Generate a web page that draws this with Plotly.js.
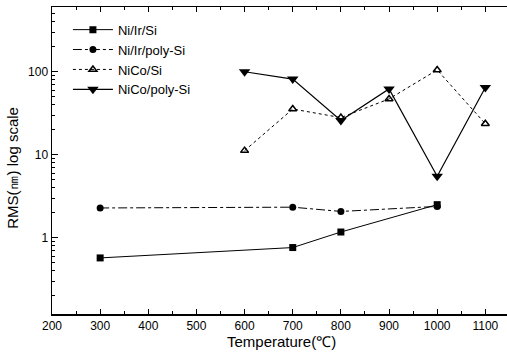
<!DOCTYPE html>
<html>
<head>
<meta charset="utf-8">
<script src="https://cdn.plot.ly/plotly-3.0.1.min.js"></script>
<style>html,body{margin:0;padding:0;background:#fff;}#chart{width:507px;height:352px;}</style>
</head>
<body>
<div id="chart"></div>
<script>
const seriesNames = ["Ni/Ir/Si", "Ni/Ir/poly-Si", "NiCo/Si", "NiCo/poly-Si"];
const tempNiIrSi = [300, 700, 800, 1000];
const rmsNiIrSi = [0.57, 0.76, 1.17, 2.5];
const tempNiIrPoly = [300, 700, 800, 1000];
const rmsNiIrPoly = [2.28, 2.33, 2.07, 2.38];
const tempNiCoSi = [600, 700, 800, 900, 1000, 1100];
const rmsNiCoSi = [11.2, 35.5, 28, 47, 105, 23.6];
const tempNiCoPoly = [600, 700, 800, 900, 1000, 1100];
const rmsNiCoPoly = [100, 81.6, 25.9, 62, 5.5, 64.6];
const xTickVals = [200, 300, 400, 500, 600, 700, 800, 900, 1000, 1100];
const yTickVals = [1, 10, 100];
const yTickText = ["1", "10", "100"];
const xTitle = "Temperature(℃)";
const yTitle = "RMS(㎚) log scale";

const minorY = [];
[0.1, 1, 10, 100].forEach(d => { for (let k = 2; k <= 9; k++) minorY.push(d * k); });

const font = {family: "Liberation Sans, Arial, sans-serif", color: "#000"};

const traces = [
  {x: tempNiIrSi, y: rmsNiIrSi, name: seriesNames[0], mode: "lines+markers",
   line: {color: "#000", width: 1, dash: "solid"},
   marker: {symbol: "square", size: 7, color: "#000"}},
  {x: tempNiIrPoly, y: rmsNiIrPoly, name: seriesNames[1], mode: "lines+markers",
   line: {color: "#000", width: 1, dash: "dashdot"},
   marker: {symbol: "circle", size: 7, color: "#000"}},
  {x: tempNiCoSi, y: rmsNiCoSi, name: seriesNames[2], mode: "lines+markers",
   line: {color: "#000", width: 1, dash: "dot"},
   marker: {symbol: "triangle-up-open", size: 7, color: "#000", line: {width: 1.5}}},
  {x: tempNiCoPoly, y: rmsNiCoPoly, name: seriesNames[3], mode: "lines+markers",
   line: {color: "#000", width: 1.2, dash: "solid"},
   marker: {symbol: "triangle-down", size: 10, color: "#000"}}
];

const layout = {
  width: 507, height: 352,
  margin: {l: 52, r: 0, t: 7, b: 38},
  paper_bgcolor: "#fff", plot_bgcolor: "#fff",
  font: font,
  showlegend: true,
  legend: {x: 0.035, y: 0.975, xanchor: "left", yanchor: "top",
           font: {family: font.family, size: 13, color: "#000"},
           bgcolor: "rgba(0,0,0,0)", tracegroupgap: 0, itemwidth: 40},
  xaxis: {
    range: [200, 1145], tickmode: "array", tickvals: xTickVals,
    ticks: "inside", ticklen: 5, tickwidth: 1, tickcolor: "#000",
    showline: true, linecolor: "#000", linewidth: 1.5, mirror: "ticks",
    showgrid: false, zeroline: false,
    tickfont: {family: font.family, size: 12, color: "#000"},
    minor: {dtick: 50, tick0: 250, ticks: "inside", ticklen: 3, tickcolor: "#000"}
  },
  yaxis: {
    type: "log", range: [-0.92, 2.78],
    tickmode: "array", tickvals: yTickVals, ticktext: yTickText,
    ticks: "inside", ticklen: 6, tickwidth: 1, tickcolor: "#000",
    showline: true, linecolor: "#000", linewidth: 1.5,
    showgrid: false, zeroline: false,
    tickfont: {family: font.family, size: 12, color: "#000"},
    minor: {tickmode: "array", tickvals: minorY, ticks: "inside", ticklen: 3, tickcolor: "#000"}
  },
  annotations: [
    {text: xTitle, xref: "paper", yref: "paper", x: 0.505, y: -0.09,
     xanchor: "center", yanchor: "middle", showarrow: false,
     font: {family: font.family, size: 15, color: "#000"}},
    {text: yTitle, xref: "paper", yref: "paper", x: -0.086, y: 0.476,
     xanchor: "center", yanchor: "middle", textangle: -90, showarrow: false,
     font: {family: font.family, size: 15, color: "#000"}}
  ]
};

Plotly.newPlot("chart", traces, layout, {staticPlot: true, displayModeBar: false});
</script>
</body>
</html>
